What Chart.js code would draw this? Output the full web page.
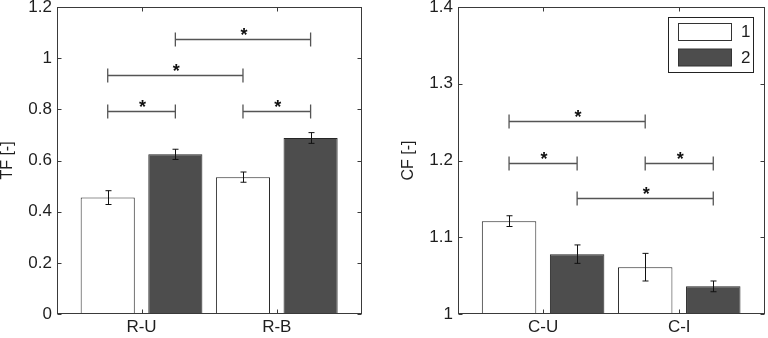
<!DOCTYPE html>
<html><head><meta charset="utf-8">
<script src="https://cdn.jsdelivr.net/npm/chart.js@4.4.0/dist/chart.umd.min.js"></script>
<style>
html,body{margin:0;padding:0;background:#fff;overflow:hidden;width:768px;height:338px;position:relative}
.c{position:absolute;top:-20px;width:384px;height:358px}
</style></head><body>
<div class="c" style="left:0"><canvas id="L" width="384" height="358"></canvas></div>
<div class="c" style="left:384px"><canvas id="R" width="384" height="358"></canvas></div>
<script>
// ---- data ----
const seriesNames = ['1', '2'];
const categoryPos = [1, 2];

const categoriesTF = ['R-U', 'R-B'];
const tfSeries1 = [0.455, 0.535];
const tfSeries2 = [0.624, 0.688];
const tfErr1 = [0.027, 0.020];
const tfErr2 = [0.020, 0.021];
const tfTicks = [0, 0.2, 0.4, 0.6, 0.8, 1, 1.2];
// significance brackets: [series, category] -> [series, category] at value
const tfBrackets = [
  {from: [0, 0], to: [1, 0], at: 0.793},
  {from: [0, 0], to: [0, 1], at: 0.935},
  {from: [1, 0], to: [1, 1], at: 1.074},
  {from: [0, 1], to: [1, 1], at: 0.793}
];

const categoriesCF = ['C-U', 'C-I'];
const cfSeries1 = [1.121, 1.061];
const cfSeries2 = [1.078, 1.036];
const cfErr1 = [0.007, 0.018];
const cfErr2 = [0.012, 0.007];
const cfTicks = [1, 1.1, 1.2, 1.3, 1.4];
const cfBrackets = [
  {from: [0, 0], to: [1, 0], at: 1.197},
  {from: [0, 0], to: [0, 1], at: 1.251},
  {from: [0, 1], to: [1, 1], at: 1.197},
  {from: [1, 0], to: [1, 1], at: 1.151}
];

// ---- styling ----
const FONT = 'Liberation Sans, Arial, Helvetica, sans-serif';
const AXIS = '#3a3a3a';
const TXT = '#1e1e1e';
const DARK = '#4d4d4d';

function overlay(errs, brackets, showLegend) {
  return {
    id: 'overlay',
    afterDatasetsDraw(chart) {
      const ctx = chart.ctx, a = chart.chartArea;
      const xs = chart.scales.x, ys = chart.scales.y;
      const bx = (s, c) => chart.getDatasetMeta(s).data[c].x;
      ctx.save();
      // error bars
      ctx.strokeStyle = '#111';
      ctx.lineWidth = 1;
      chart.data.datasets.forEach((ds, s) => {
        ds.data.forEach((p, c) => {
          const x = Math.round(bx(s, c)) + 0.5;
          const y1 = ys.getPixelForValue(p.y + errs[s][c]);
          const y2 = ys.getPixelForValue(p.y - errs[s][c]);
          ctx.beginPath();
          ctx.moveTo(x, y1); ctx.lineTo(x, y2);
          ctx.moveTo(x - 3, y1); ctx.lineTo(x + 3, y1);
          ctx.moveTo(x - 3, y2); ctx.lineTo(x + 3, y2);
          ctx.stroke();
        });
      });
      // brackets
      ctx.strokeStyle = '#555';
      ctx.lineWidth = 1.3;
      ctx.fillStyle = '#111';
      ctx.font = 'bold 18px ' + FONT;
      ctx.textAlign = 'center';
      ctx.textBaseline = 'alphabetic';
      brackets.forEach(b => {
        const x1 = bx(b.from[0], b.from[1]), x2 = bx(b.to[0], b.to[1]);
        const y = Math.round(ys.getPixelForValue(b.at)) + 0.5;
        ctx.beginPath();
        ctx.moveTo(x1, y); ctx.lineTo(x2, y);
        ctx.moveTo(x1, y - 7); ctx.lineTo(x1, y + 7);
        ctx.moveTo(x2, y - 7); ctx.lineTo(x2, y + 7);
        ctx.stroke();
        ctx.fillText('*', (x1 + x2) / 2 + 1, y + 1);
      });
      // box and inward ticks
      ctx.strokeStyle = AXIS;
      ctx.lineWidth = 1;
      const L = Math.round(a.left) + 0.5, R = Math.round(a.right) - 0.5;
      const T = Math.round(a.top) + 0.5, B = Math.round(a.bottom) - 0.5;
      ctx.strokeRect(L, T, R - L, B - T);
      ctx.beginPath();
      ys.ticks.forEach(t => {
        const y = Math.round(ys.getPixelForValue(t.value)) + 0.5;
        ctx.moveTo(L, y); ctx.lineTo(L + 4, y);
        ctx.moveTo(R, y); ctx.lineTo(R - 4, y);
      });
      xs.ticks.forEach(t => {
        const x = Math.round(xs.getPixelForValue(t.value)) + 0.5;
        ctx.moveTo(x, B); ctx.lineTo(x, B - 4);
        ctx.moveTo(x, T); ctx.lineTo(x, T + 4);
      });
      ctx.stroke();
      // legend
      if (showLegend) {
        const lr = a.right - 12, lt = a.top + 10, lw = 85, lh = 55;
        const ll = lr - lw;
        ctx.strokeStyle = '#222';
        ctx.strokeRect(Math.round(ll) + 0.5, Math.round(lt) + 0.5, lw, lh);
        ctx.textAlign = 'left';
        ctx.textBaseline = 'middle';
        ctx.font = '17px ' + FONT;
        chart.data.datasets.forEach((ds, i) => {
          const sy = lt + 6 + i * 25.5;
          ctx.fillStyle = ds.backgroundColor;
          ctx.fillRect(ll + 10.5, sy + 0.5, 53, 17);
          ctx.strokeStyle = '#333';
          ctx.strokeRect(ll + 10.5, sy + 0.5, 53, 17);
          ctx.fillStyle = TXT;
          ctx.fillText(ds.label, ll + 73, sy + 9.5);
        });
      }
      ctx.restore();
    }
  };
}

function makeChart(id, cats, s1, s2, e1, e2, yTicks, yTitle, brackets, yWidth, padRight, titlePad, legend) {
  return new Chart(document.getElementById(id), {
    type: 'bar',
    data: {
      datasets: [
        {label: seriesNames[0], data: categoryPos.map((x, i) => ({x, y: s1[i]})),
         backgroundColor: '#ffffff', borderColor: '#262626', borderWidth: 1,
         categoryPercentage: 1, barPercentage: 0.8},
        {label: seriesNames[1], data: categoryPos.map((x, i) => ({x, y: s2[i]})),
         backgroundColor: DARK, borderColor: '#262626', borderWidth: 1,
         categoryPercentage: 1, barPercentage: 0.8}
      ]
    },
    options: {
      responsive: false, animation: false, devicePixelRatio: 1,
      layout: {padding: {left: 0, right: padRight, top: 27, bottom: 0}},
      plugins: {legend: {display: false}, tooltip: {enabled: false}},
      scales: {
        x: {
          type: 'linear', min: 0.375, max: 2.63, offset: false,
          afterBuildTicks(s) { s.ticks = categoryPos.map(v => ({value: v})); },
          afterFit(s) { s.height = 24; },
          ticks: {callback: (v, i) => cats[i], color: TXT, font: {family: FONT, size: 17}, padding: 3, maxRotation: 0},
          grid: {display: false, drawTicks: false}, border: {display: false}
        },
        y: {
          min: yTicks[0], max: yTicks[yTicks.length - 1],
          afterBuildTicks(s) { s.ticks = yTicks.map(v => ({value: v})); },
          afterFit(s) { s.width = yWidth; },
          ticks: {callback: (v, i) => String(yTicks[i]), color: TXT, font: {family: FONT, size: 17}, padding: 5},
          grid: {display: false, drawTicks: false}, border: {display: false},
          title: {display: true, text: yTitle, color: TXT, font: {family: FONT, size: 16, lineHeight: 1}, padding: {top: titlePad, bottom: 0}}
        }
      }
    },
    plugins: [overlay([e1, e2], brackets, legend)]
  });
}

makeChart('L', categoriesTF, tfSeries1, tfSeries2, tfErr1, tfErr2, tfTicks, 'TF [-]', tfBrackets, 57, 22, 0, false);
makeChart('R', categoriesCF, cfSeries1, cfSeries2, cfErr1, cfErr2, cfTicks, 'CF [-]', cfBrackets, 74, 3, 17, true);
</script>
</body></html>
